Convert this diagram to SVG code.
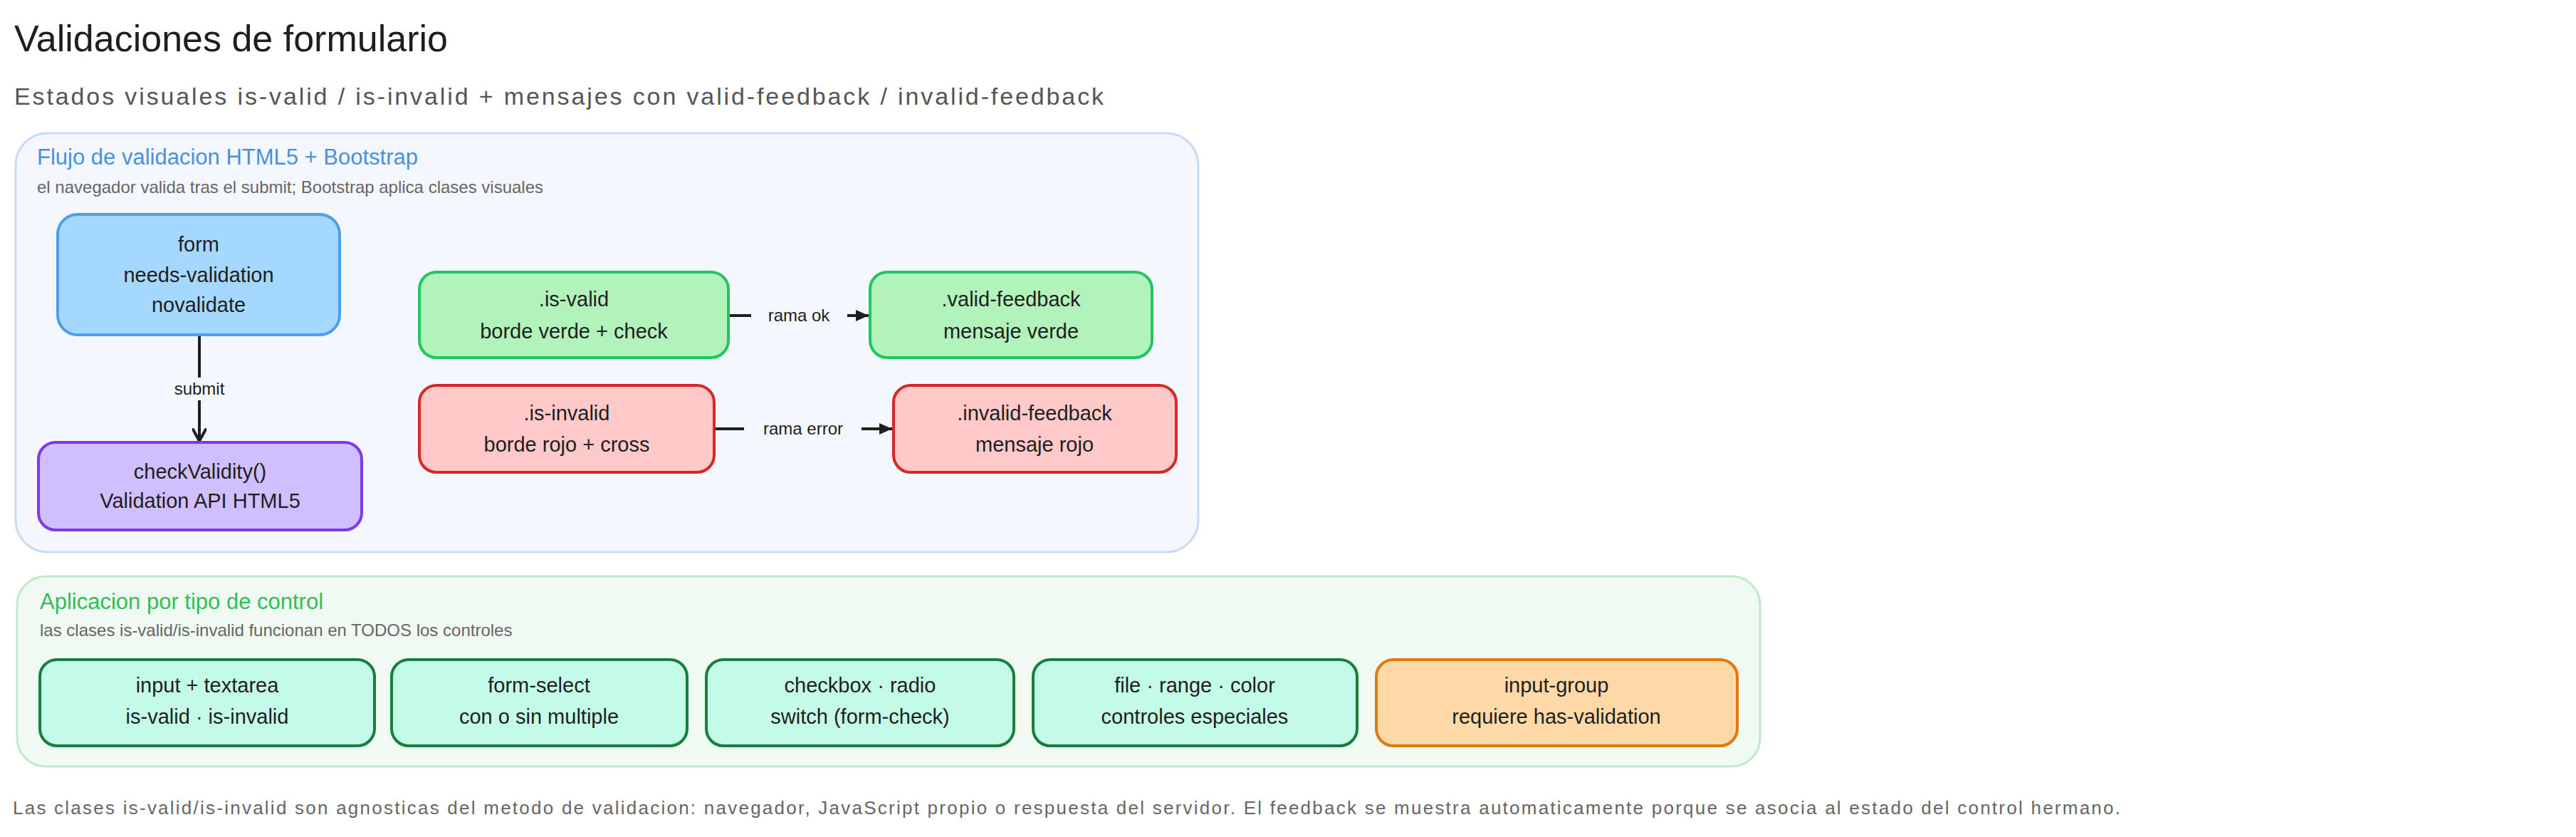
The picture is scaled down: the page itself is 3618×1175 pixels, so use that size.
<svg xmlns="http://www.w3.org/2000/svg" width="3618" height="1175" viewBox="0 0 3618 1175">
<defs>
<style>
text{font-family:"Liberation Sans","DejaVu Sans",sans-serif;}
.n{font-size:29px;fill:#1e1e1e;text-anchor:middle;}
.lbl{font-size:24px;fill:#1e1e1e;text-anchor:middle;}
.cap{font-size:24px;fill:#666;}
.node{stroke-width:4;}
.e{stroke:#1e1e1e;stroke-width:4;fill:none;}
</style>
<marker id="open" markerWidth="20" markerHeight="20" refX="18" refY="10" orient="auto" markerUnits="userSpaceOnUse"><path d="M0,0 L18,10 L0,20" fill="none" stroke="#1e1e1e" stroke-width="4"/></marker>
<marker id="tri" markerWidth="20" markerHeight="20" refX="18" refY="10" orient="auto" markerUnits="userSpaceOnUse"><path d="M0,2 L18,10 L0,18 Z" fill="#1e1e1e"/></marker>
</defs>
<rect width="3618" height="1175" fill="#fff"/>
<text x="20" y="72" font-size="52" fill="#1e1e1e">Validaciones de formulario</text>
<text x="20" y="147" font-size="34" fill="#555" textLength="1530">Estados visuales is-valid / is-invalid + mensajes con valid-feedback / invalid-feedback</text>

<g id="group-flujo">
<rect x="22" y="187" width="1661" height="588" rx="45" fill="#f4f7fd" stroke="#c9dcf5" stroke-width="3"/>
<text x="52" y="231" font-size="31" fill="#4a90e2">Flujo de validacion HTML5 + Bootstrap</text>
<text x="52" y="271" class="cap">el navegador valida tras el submit; Bootstrap aplica clases visuales</text>
</g>
<g id="group-control">
<rect x="24" y="809" width="2448" height="267" rx="40" fill="#f1faf2" stroke="#bfe9c8" stroke-width="3"/>
<text x="56" y="855" font-size="31" fill="#2fbf55">Aplicacion por tipo de control</text>
<text x="56" y="893" class="cap">las clases is-valid/is-invalid funcionan en TODOS los controles</text>
</g>

<g id="connectors">
<path class="e" d="M280 470 L280 619" marker-end="url(#open)"/>
<rect x="240" y="530" width="80" height="32" fill="#f4f7fd"/>
<text x="280" y="554" class="lbl">submit</text>
<path class="e" d="M1023 443 L1220 443" marker-end="url(#tri)"/>
<rect x="1055" y="425" width="135" height="34" fill="#f4f7fd"/>
<text x="1122" y="451" class="lbl">rama ok</text>
<path class="e" d="M1003 602 L1253 602" marker-end="url(#tri)"/>
<rect x="1045" y="584" width="165" height="34" fill="#f4f7fd"/>
<text x="1128" y="610" class="lbl">rama error</text>
</g>

<g id="form"><rect class="node" x="81" y="301" width="396" height="169" rx="28" fill="#a5d8ff" stroke="#4a9eed"/>
<text class="n" x="279" y="353">form</text><text class="n" x="279" y="396">needs-validation</text><text class="n" x="279" y="438">novalidate</text></g>
<g id="check"><rect class="node" x="54" y="621" width="454" height="123" rx="24" fill="#d0bfff" stroke="#7c3aed"/>
<text class="n" x="281" y="672">checkValidity()</text><text class="n" x="281" y="713">Validation API HTML5</text></g>
<g id="isvalid"><rect class="node" x="589" y="382" width="434" height="120" rx="24" fill="#b2f2bb" stroke="#22c55e"/>
<text class="n" x="806" y="430">.is-valid</text><text class="n" x="806" y="475">borde verde + check</text></g>
<g id="validfb"><rect class="node" x="1222" y="382" width="396" height="120" rx="24" fill="#b2f2bb" stroke="#22c55e"/>
<text class="n" x="1420" y="430">.valid-feedback</text><text class="n" x="1420" y="475">mensaje verde</text></g>
<g id="isinvalid"><rect class="node" x="589" y="541" width="414" height="122" rx="24" fill="#ffc9c9" stroke="#d62828"/>
<text class="n" x="796" y="590">.is-invalid</text><text class="n" x="796" y="634">borde rojo + cross</text></g>
<g id="invalidfb"><rect class="node" x="1255" y="541" width="397" height="122" rx="24" fill="#ffc9c9" stroke="#d62828"/>
<text class="n" x="1453" y="590">.invalid-feedback</text><text class="n" x="1453" y="634">mensaje rojo</text></g>

<g id="c1"><rect class="node" x="56" y="926" width="470" height="121" rx="24" fill="#c3fae8" stroke="#157f3b"/>
<text class="n" x="291" y="972">input + textarea</text><text class="n" x="291" y="1016">is-valid · is-invalid</text></g>
<g id="c2"><rect class="node" x="550" y="926" width="415" height="121" rx="24" fill="#c3fae8" stroke="#157f3b"/>
<text class="n" x="757" y="972">form-select</text><text class="n" x="757" y="1016">con o sin multiple</text></g>
<g id="c3"><rect class="node" x="992" y="926" width="432" height="121" rx="24" fill="#c3fae8" stroke="#157f3b"/>
<text class="n" x="1208" y="972">checkbox · radio</text><text class="n" x="1208" y="1016">switch (form-check)</text></g>
<g id="c4"><rect class="node" x="1451" y="926" width="455" height="121" rx="24" fill="#c3fae8" stroke="#157f3b"/>
<text class="n" x="1678" y="972">file · range · color</text><text class="n" x="1678" y="1016">controles especiales</text></g>
<g id="c5"><rect class="node" x="1933" y="926" width="507" height="121" rx="24" fill="#ffd8a8" stroke="#e07a10"/>
<text class="n" x="2186" y="972">input-group</text><text class="n" x="2186" y="1016">requiere has-validation</text></g>

<text x="18" y="1143" font-size="26" fill="#666" textLength="2960">Las clases is-valid/is-invalid son agnosticas del metodo de validacion: navegador, JavaScript propio o respuesta del servidor. El feedback se muestra automaticamente porque se asocia al estado del control hermano.</text>
</svg>
